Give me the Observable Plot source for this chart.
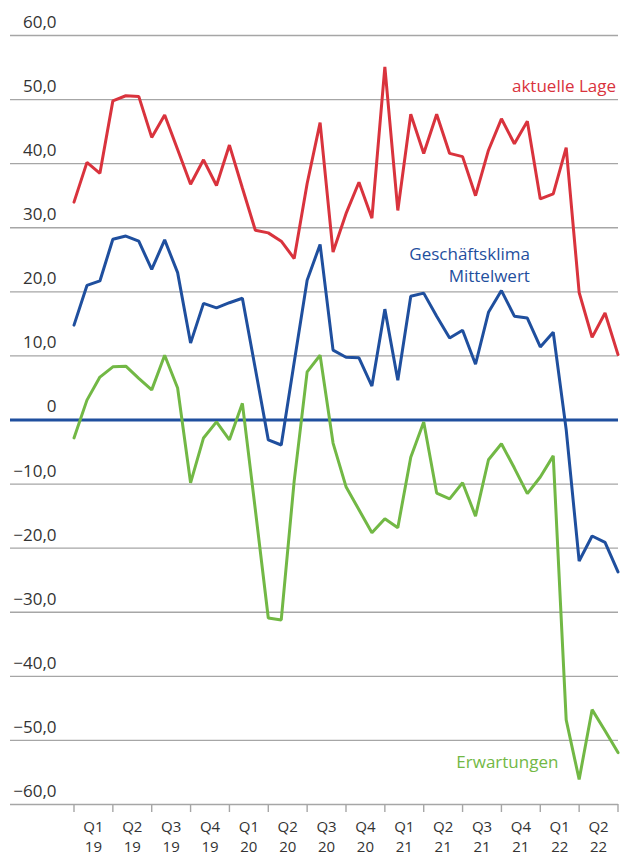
<!DOCTYPE html>
<html>
<head>
<meta charset="utf-8">
<script src="https://cdn.jsdelivr.net/npm/d3@7"></script>
<script src="https://cdn.jsdelivr.net/npm/@observablehq/plot@0.6"></script>
<style>
  html, body { margin: 0; padding: 0; background: #fff; }
  #chart svg { display: block; }
</style>
</head>
<body>
<div id="chart"></div>
<script>
// Monthly values, Jan 2019 .. Jul 2022 (index 0..42)
const aktuelleLage = [34.0, 40.2, 38.5, 49.8, 50.6, 50.5, 44.1, 47.6, 42.2, 36.8, 40.6, 36.6, 42.9, 36.2, 29.6, 29.2, 27.9, 25.2, 36.9, 46.4, 26.2, 32.2, 37.1, 31.5, 55.1, 32.7, 47.7, 41.6, 47.7, 41.6, 41.1, 35.0, 42.1, 47.0, 43.1, 46.6, 34.5, 35.3, 42.5, 19.9, 12.9, 16.7, 10.2];
const geschaeftsklima = [14.8, 21.0, 21.7, 28.2, 28.7, 27.9, 23.5, 28.1, 23.0, 12.0, 18.2, 17.5, 18.3, 19.0, 8.0, -3.1, -3.9, 9.0, 21.8, 27.4, 10.9, 9.8, 9.7, 5.3, 17.3, 6.2, 19.3, 19.8, 16.2, 12.8, 14.0, 8.7, 16.8, 20.2, 16.2, 15.9, 11.4, 13.7, -1.5, -22.0, -18.1, -19.1, -23.7];
const erwartungen = [-2.8, 3.1, 6.7, 8.3, 8.4, 6.5, 4.7, 10.1, 5.0, -9.8, -2.8, -0.3, -3.1, 2.6, -14.0, -30.9, -31.2, -9.5, 7.5, 10.1, -3.6, -10.4, -14.0, -17.6, -15.4, -16.8, -5.8, -0.3, -11.4, -12.3, -9.8, -15.0, -6.2, -3.7, -7.5, -11.5, -8.9, -5.6, -46.8, -56.1, -45.2, -48.5, -51.9];

const quarterLabels = ["Q1", "Q2", "Q3", "Q4", "Q1", "Q2", "Q3", "Q4", "Q1", "Q2", "Q3", "Q4", "Q1", "Q2"];
const yearLabels = ["19", "19", "19", "19", "20", "20", "20", "20", "21", "21", "21", "21", "22", "22"];
const yTicks = [60, 50, 40, 30, 20, 10, 0, -10, -20, -30, -40, -50, -60];

const seriesNames = ["aktuelle Lage", "Geschäftsklima\nMittelwert", "Erwartungen"];
// label anchors in data units (month index, value)
const labelX = [41.85, 35.2, 37.4];
const labelY = [52.2, 24.3, -53.3];

const RED = "#d9333d", BLUE = "#1f4f9e", GREEN = "#72b845", GRID = "#a6a6a6", TEXT = "#333333";

const toRows = (arr) => arr.map((v, i) => ({i, v}));
const fmt = (d) => d === 0 ? "0" : d3.format(".1f")(d).replace(".", ",").replace("-", "\u2212");

const quarterRows = quarterLabels.map((q, k) => ({i: 1.5 + 3 * k, q, yr: yearLabels[k]}));
const boundaries = d3.range(0, 43, 3);
const labelRows = seriesNames.map((s, k) => ({x: labelX[k], y: labelY[k], text: s, color: [RED, BLUE, GREEN][k]}));

const chart = Plot.plot({
  width: 623,
  height: 857,
  marginTop: 35,
  marginBottom: 53,
  marginLeft: 10,
  marginRight: 5,
  style: {fontFamily: "'Open Sans', sans-serif", background: "#fff"},
  x: {domain: [0, 42], range: [73.5, 617.5], axis: null},
  y: {domain: [-60, 60], axis: null},
  marks: [
    Plot.ruleY(yTicks.filter(d => d !== 0), {stroke: GRID, strokeWidth: 1.4}),
    Plot.axisX(boundaries, {tickSize: 8, stroke: GRID, strokeWidth: 1.4, tickFormat: () => ""}),
    Plot.text(yTicks, {y: d => d, text: fmt, frameAnchor: "left", dx: 46, dy: -13, textAnchor: "end", fontSize: 17, fill: TEXT}),
    Plot.text(quarterRows, {x: "i", text: "q", frameAnchor: "bottom", lineAnchor: "top", dy: 16.8, fontSize: 15, fill: TEXT}),
    Plot.text(quarterRows, {x: "i", text: "yr", frameAnchor: "bottom", lineAnchor: "top", dy: 37.3, fontSize: 15, fill: TEXT}),
    Plot.ruleY([0], {stroke: BLUE, strokeWidth: 3}),
    Plot.line(toRows(erwartungen), {x: "i", y: "v", stroke: GREEN, strokeWidth: 3, strokeLinejoin: "miter"}),
    Plot.line(toRows(geschaeftsklima), {x: "i", y: "v", stroke: BLUE, strokeWidth: 3, strokeLinejoin: "miter"}),
    Plot.line(toRows(aktuelleLage), {x: "i", y: "v", stroke: RED, strokeWidth: 3, strokeLinejoin: "miter"}),
    Plot.text(labelRows, {x: "x", y: "y", text: "text", fill: "color", textAnchor: "end", fontSize: 17, lineHeight: 1.25})
  ]
});
document.getElementById("chart").appendChild(chart);
</script>
</body>
</html>
